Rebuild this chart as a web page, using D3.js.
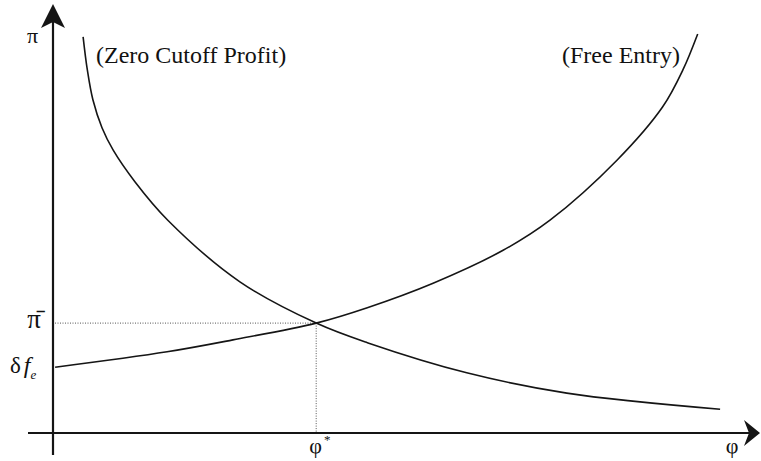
<!DOCTYPE html>
<html>
<head>
<meta charset="utf-8">
<script src="https://cdn.jsdelivr.net/npm/d3@7"></script>
<style>
  html, body { margin: 0; padding: 0; background: #fff; }
  svg { display: block; }
</style>
</head>
<body>
<svg id="chart" width="761" height="461"></svg>
<script>
// ---- data (model units) ----
const zeroCutoffX = [0.43, 0.49, 0.57, 0.70, 0.86, 1.17, 1.64, 2.67, 3.76, 4.49, 5.91, 7.34, 9.53];
const zeroCutoffY = [5.66, 5.19, 4.76, 4.36, 4.04, 3.59, 3.04, 2.16, 1.57, 1.29, 0.86, 0.57, 0.34];
const freeEntryX  = [0.03, 1.63, 2.57, 3.76, 4.49, 5.43, 6.43, 7.10, 8.06, 8.71, 9.00, 9.21];
const freeEntryY  = [0.94, 1.16, 1.33, 1.57, 1.79, 2.14, 2.61, 3.04, 3.90, 4.66, 5.19, 5.70];
const phiStar = 3.76;      // equilibrium cutoff productivity
const piBar = 1.57;        // equilibrium average profit
const deltaFe = 0.94;      // intercept of free-entry curve
const curveLabels = ["(Zero Cutoff Profit)", "(Free Entry)"];
const axisLabels = { y: "π", x: "φ" };

// ---- layout ----
const FONT = "Liberation Serif";
const svg = d3.select("#chart");
const x = d3.scaleLinear().domain([0, 10]).range([53, 753]);
const y = d3.scaleLinear().domain([0, 6]).range([433, 13]);
const ink = "#151515";

const line = d3.line().x(d => x(d[0])).y(d => y(d[1])).curve(d3.curveCatmullRom.alpha(0.5));
const zc = d3.zip(zeroCutoffX, zeroCutoffY);
const fe = d3.zip(freeEntryX, freeEntryY);

function txt(xp, yp, size) {
  return svg.append("text").attr("x", xp).attr("y", yp)
    .attr("font-family", FONT).attr("font-size", size).attr("fill", "#111");
}

// dotted guides
svg.append("line")
  .attr("x1", x(0) + 2).attr("x2", x(phiStar))
  .attr("y1", y(piBar)).attr("y2", y(piBar))
  .attr("stroke", "#555").attr("stroke-width", 1).attr("stroke-dasharray", "1,1.5");
svg.append("line")
  .attr("x1", x(phiStar)).attr("x2", x(phiStar))
  .attr("y1", y(piBar)).attr("y2", y(0))
  .attr("stroke", "#555").attr("stroke-width", 1).attr("stroke-dasharray", "1,1.5");

// curves
svg.append("path").attr("d", line(zc)).attr("fill", "none")
  .attr("stroke", ink).attr("stroke-width", 1.6);
svg.append("path").attr("d", line(fe)).attr("fill", "none")
  .attr("stroke", ink).attr("stroke-width", 1.6);

// axes
const x0 = x(0), y0 = y(0);
svg.append("line").attr("x1", x0).attr("x2", x0).attr("y1", y0 + 22).attr("y2", 14)
  .attr("stroke", ink).attr("stroke-width", 2.2);
svg.append("line").attr("x1", x0 - 25).attr("x2", 750).attr("y1", y0).attr("y2", y0)
  .attr("stroke", ink).attr("stroke-width", 2.2);
// arrowheads
svg.append("path")
  .attr("d", `M${x0},4 L${x0 + 12},28 L${x0},22 L${x0 - 12},28 Z`)
  .attr("fill", ink);
svg.append("path")
  .attr("d", `M760,${y0} L744,${y0 + 13} L749,${y0} L744,${y0 - 13} Z`)
  .attr("fill", ink);

// curve labels
txt(96, 63, 24).text(curveLabels[0]);
txt(562, 63, 24).text(curveLabels[1]);

// axis labels
txt(27, 43, 22).text(axisLabels.y);
txt(732, 453, 22).attr("text-anchor", "middle").text(axisLabels.x);

// tick labels
txt(34, y(piBar) + 5, 27).attr("text-anchor", "middle").text("π\u0304");
const dfe = txt(10, y(deltaFe) + 6, 23);
dfe.append("tspan").text("δ");
dfe.append("tspan").attr("dx", 3).attr("font-style", "italic").attr("font-size", 24).text("f");
dfe.append("tspan").attr("dy", 6).attr("font-style", "italic").attr("font-size", 13).text("e");

const ps = txt(x(phiStar) - 7, 453, 22);
ps.append("tspan").text("φ");
ps.append("tspan").attr("dx", 2).attr("dy", -9).attr("font-size", 13).text("*");
</script>
</body>
</html>
